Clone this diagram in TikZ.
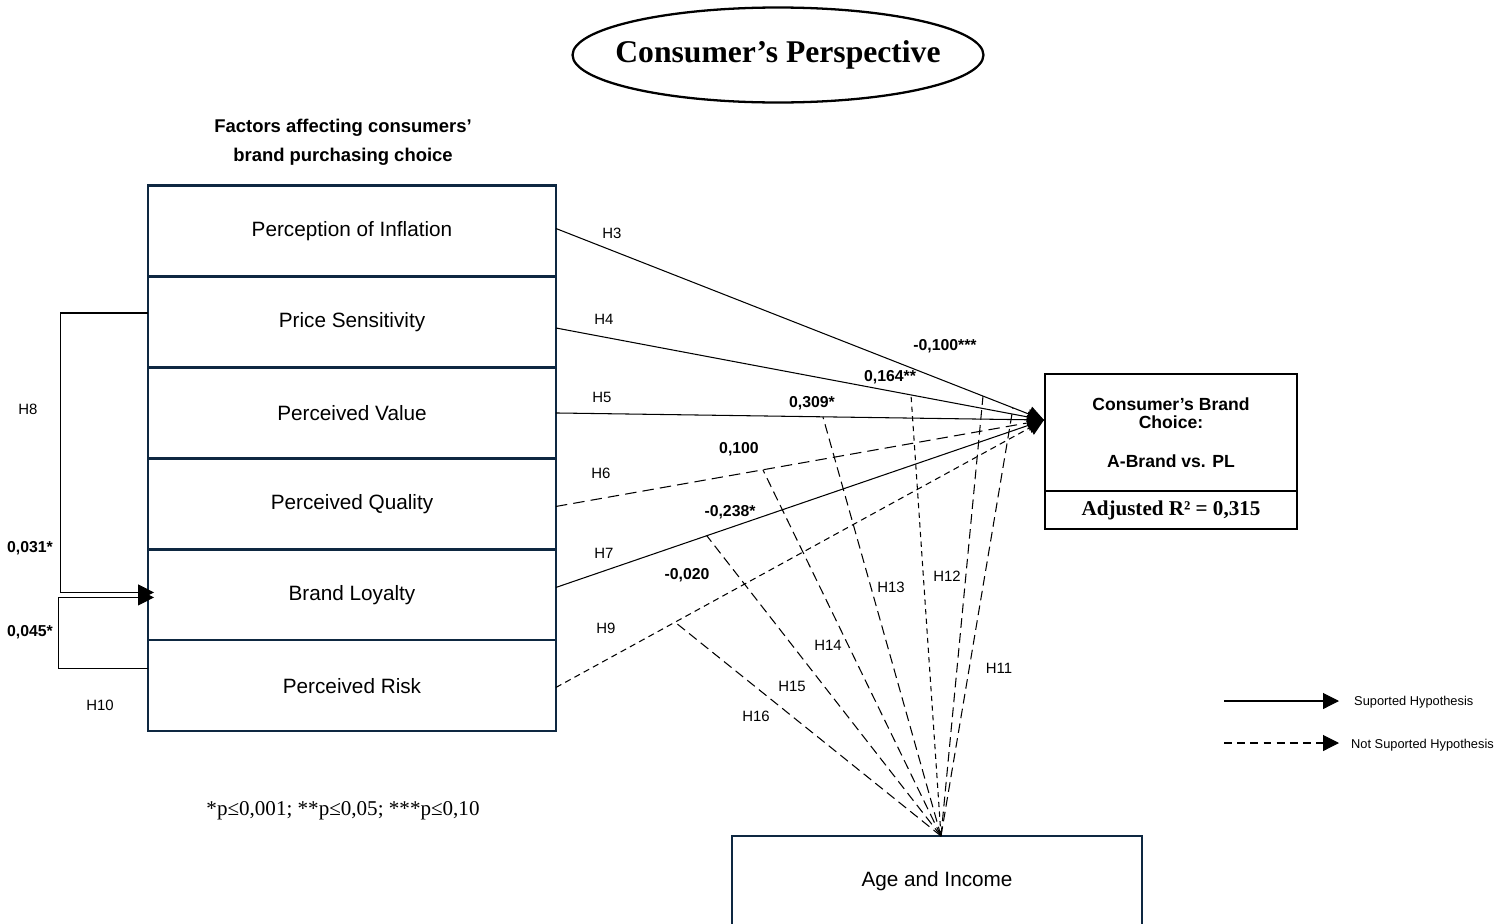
\documentclass[tikz,border=0pt]{standalone}
\usepackage{fontspec}
\setmainfont{Liberation Sans}
\newfontfamily\timesrm{Liberation Serif}
\usetikzlibrary{positioning,shapes.geometric,arrows.meta,calc}
\definecolor{boxnavy}{HTML}{0E2841}
\tikzset{
  factor/.style={draw=boxnavy, line width=1.2pt, minimum width=8.16cm, minimum height=1.82cm, outer sep=0pt, font=\fontsize{11.8}{14}\selectfont},
  hyp/.style={font=\fontsize{8.5}{10}\selectfont, inner sep=1pt},
  coef/.style={font=\bfseries\fontsize{9}{11}\selectfont, inner sep=1pt},
  supp/.style={line width=0.6pt, -{Triangle[length=0.32cm,width=0.32cm]}},
  nsupp/.style={supp, dash pattern=on 6.5pt off 3.5pt},
  nsuppdot/.style={supp, dash pattern=on 3.5pt off 2.5pt},
  moder/.style={line width=0.6pt, dash pattern=on 5.5pt off 3pt},
  moderdot/.style={line width=0.6pt, dash pattern=on 3pt off 2.5pt},
  legtext/.style={font=\fontsize{7.3}{9}\selectfont, anchor=west}
}
\begin{document}
\begin{tikzpicture}[x=0.02cm, y=-0.02cm]
  \useasboundingbox (0,0) rectangle (1510,923);
  \node[font=\timesrm\bfseries\fontsize{18}{20}\selectfont] (title) at (778,55) {Consumer’s Perspective};
  \draw[line width=1.3pt] (title) ellipse [x radius=4.11cm, y radius=0.95cm];
  \node[align=center, font=\bfseries\fontsize{10.5}{16.5}\selectfont] (hdr) at (343,142)
        {Factors affecting consumers’\\brand purchasing choice};

  \node[factor] (inf) at (352,231) {Perception of Inflation};
  \node[factor, below=0pt of inf] (ps) {Price Sensitivity};
  \node[factor, below=0pt of ps] (pv) {Perceived Value};
  \node[factor, below=0pt of pv] (pq) {Perceived Quality};
  \node[factor, below=0pt of pq] (bl) {Brand Loyalty};
  \node[factor, below=0pt of bl] (pr) {Perceived Risk};

  \node[draw, line width=1.2pt, minimum width=5.04cm, minimum height=2.34cm, outer sep=0pt, align=center,
        font=\bfseries\fontsize{10}{10.2}\selectfont] (bc) at (1171,432.5)
        {Consumer’s Brand\\Choice:\\[0.42cm]A-Brand vs. PL};
  \node[draw, line width=1.2pt, minimum width=5.04cm, minimum height=0.76cm, outer sep=0pt, below=0pt of bc,
        font=\timesrm\bfseries\fontsize{12}{14}\selectfont] (r2) {Adjusted R² = 0,315};
  \node[factor, minimum width=8.2cm] (age) at (937,881.5) {Age and Income};

  \coordinate (tip) at (1044,420);
  \coordinate (s3) at ([yshift=0.05cm]inf.east);
  \coordinate (s4) at ([yshift=-0.12cm]ps.east);
  \coordinate (s5) at (pv.east);
  \coordinate (s6) at ([yshift=-0.05cm]pq.east);
  \coordinate (s7) at ([yshift=0.15cm]bl.east);
  \coordinate (s9) at ([yshift=-0.03cm]pr.east);
  \draw[supp] (s3) -- (tip);
  \draw[supp] (s4) -- (tip);
  \draw[supp] (s5) -- (tip);
  \draw[nsupp] (s6) -- (tip);
  \draw[supp] (s7) -- (tip);
  \draw[nsuppdot] (s9) -- (tip);

  \coordinate (agetop) at ([xshift=0.08cm]age.north);
  \coordinate (m3a) at ($(s3)!0.9365!(tip)$);
  \coordinate (m3b) at ($(s3)!0.875!(tip)$);
  \coordinate (m4) at ($(s4)!0.7275!(tip)$);
  \coordinate (m5) at ($(s5)!0.547!(tip)$);
  \coordinate (m6) at ($(s6)!0.424!(tip)$);
  \coordinate (m7) at ($(s7)!0.309!(tip)$);
  \coordinate (m9) at ($(s9)!0.244!(tip)$);
  \draw[moder] (agetop) -- (m3a);
  \draw[moder] (agetop) -- (m3b);
  \draw[moderdot] (agetop) -- (m4);
  \draw[moder] (agetop) -- (m5);
  \draw[moder] (agetop) -- (m6);
  \draw[moder] (agetop) -- (m7);
  \draw[moder] (agetop) -- (m9);

  \draw[supp] ([yshift=0.18cm]ps.west) -- ++(-88,0) |- ([xshift=0.12cm,yshift=0.05cm]bl.west);
  \draw[supp] ([yshift=0.35cm]pr.west) -- ++(-90,0) |- ([xshift=0.12cm,yshift=-0.05cm]bl.west);

  \node[hyp] (h3) at (612,233) {H3};
  \node[hyp] (h4) at (604,319) {H4};
  \node[hyp] (h5) at (602,397) {H5};
  \node[hyp] (h6) at (601,473) {H6};
  \node[hyp] (h7) at (604,553) {H7};
  \node[hyp] (h9) at (606,628) {H9};
  \node[hyp] (h8) at (28,409) {H8};
  \node[hyp] (h10) at (100,705) {H10};
  \node[hyp] (h11) at (999,668) {H11};
  \node[hyp] (h12) at (947,576) {H12};
  \node[hyp] (h13) at (891,587) {H13};
  \node[hyp] (h14) at (828,645) {H14};
  \node[hyp] (h15) at (792,686) {H15};
  \node[hyp] (h16) at (756,716) {H16};

  \node[coef] (c3) at (945,346) {-0,100***};
  \node[coef] (c4) at (890,377) {0,164**};
  \node[coef] (c5) at (812,403) {0,309*};
  \node[coef] (c6) at (739,449) {0,100};
  \node[coef] (c7) at (730,512) {-0,238*};
  \node[coef] (c9) at (687,575) {-0,020};
  \node[coef] (c8) at (30,548) {0,031*};
  \node[coef] (c10) at (30,632) {0,045*};

  \node[font=\timesrm\fontsize{12}{14}\selectfont] (fn) at (343,811) {*p≤0,001; **p≤0,05; ***p≤0,10};

  \node[legtext] (legs) at (1348,702) {Suported Hypothesis};
  \node[legtext] (legn) at (1345,745) {Not Suported Hypothesis};
  \coordinate (ls) at (1224,701);
  \coordinate (ln) at (1224,743);
  \draw[supp, shorten >=0.18cm] (ls) -- (ls -| legs.west);
  \draw[supp, dash pattern=on 4.5pt off 3pt, shorten >=0.12cm] (ln) -- (ln -| legn.west);
\end{tikzpicture}
\end{document}
